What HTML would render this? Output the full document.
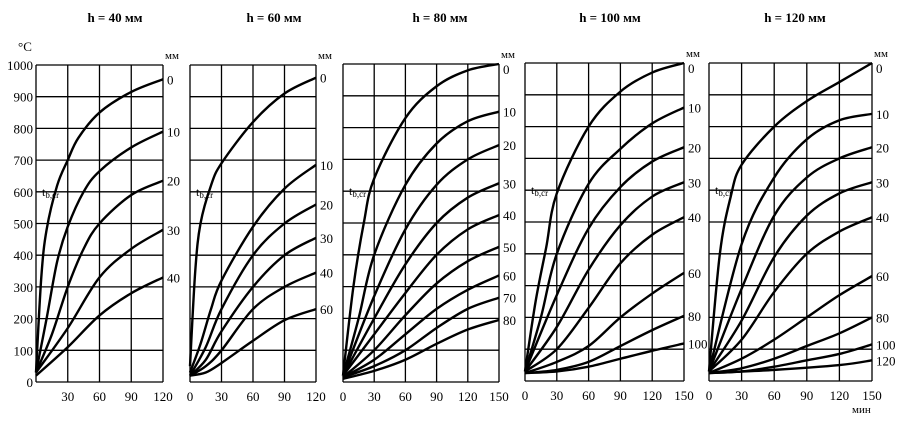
<!DOCTYPE html>
<html><head><meta charset="utf-8"><style>
html,body{margin:0;padding:0;background:#fff;}
svg{display:block;font-family:"Liberation Serif",serif;}
</style></head><body>
<svg id="s" width="907" height="427" xmlns="http://www.w3.org/2000/svg">
<text x="115" y="22" font-size="13" font-weight="bold" text-anchor="middle">h = 40 мм</text>
<text x="274" y="22" font-size="13" font-weight="bold" text-anchor="middle">h = 60 мм</text>
<text x="440" y="22" font-size="13" font-weight="bold" text-anchor="middle">h = 80 мм</text>
<text x="610" y="22" font-size="13" font-weight="bold" text-anchor="middle">h = 100 мм</text>
<text x="795" y="22" font-size="13" font-weight="bold" text-anchor="middle">h = 120 мм</text>
<text x="18" y="51" font-size="13">°C</text>
<text x="852" y="413" font-size="11">мин</text>
</svg>
<script>
var s=document.getElementById('s'),NS='http://www.w3.org/2000/svg';
function el(t,a,txt){var e=document.createElementNS(NS,t);for(var k in a)e.setAttribute(k,a[k]);if(txt!=null)e.textContent=txt;s.appendChild(e);return e;}
var P=[
{x0:36,x1:163,tmax:120,top:65,bot:382,ticks:[30,60,90,120],
 c:[["0",[[0,30],[5,330],[10,480],[20,620],[30,700],[40,770],[60,850],[90,915],[120,955]]],
    ["10",[[0,30],[10,200],[20,380],[30,490],[45,600],[60,665],[90,740],[120,790]]],
    ["20",[[0,30],[15,150],[30,300],[45,420],[60,500],[90,590],[120,635]]],
    ["30",[[0,30],[30,170],[60,330],[90,420],[120,480]]],
    ["40",[[0,20],[30,110],[60,210],[90,280],[120,330]]]]},
{x0:190,x1:316,tmax:120,top:65,bot:382,ticks:[0,30,60,90,120],
 c:[["0",[[0,50],[5,350],[10,500],[20,620],[30,690],[60,820],[90,910],[120,960]]],
    ["10",[[0,30],[10,120],[20,230],[30,320],[60,490],[90,610],[120,685]]],
    ["20",[[0,20],[15,110],[30,230],[60,400],[90,500],[120,560]]],
    ["30",[[0,20],[15,70],[30,160],[60,300],[90,400],[120,455]]],
    ["40",[[0,20],[15,50],[30,100],[60,230],[90,300],[120,345]]],
    ["60",[[0,20],[15,30],[30,60],[60,130],[90,195],[120,230]]]]},
{x0:343,x1:499,tmax:150,top:64,bot:382,ticks:[0,30,60,90,120,150],
 c:[["0",[[0,20],[10,300],[20,500],[30,640],[60,830],[90,930],[120,980],[150,1000]]],
    ["10",[[0,20],[15,200],[30,400],[60,620],[90,750],[120,820],[150,850]]],
    ["20",[[0,20],[30,270],[60,480],[90,620],[120,700],[150,745]]],
    ["30",[[0,20],[30,200],[60,370],[90,500],[120,580],[150,625]]],
    ["40",[[0,20],[30,150],[60,280],[90,400],[120,480],[150,525]]],
    ["50",[[0,15],[30,100],[60,210],[90,310],[120,380],[150,425]]],
    ["60",[[0,15],[30,70],[60,150],[90,230],[120,290],[150,335]]],
    ["70",[[0,15],[30,50],[60,100],[90,170],[120,230],[150,265]]],
    ["80",[[0,10],[30,35],[60,70],[90,120],[120,165],[150,195]]]]},
{x0:525,x1:684,tmax:150,top:63,bot:381,ticks:[0,30,60,90,120,150],
 c:[["0",[[0,30],[10,250],[20,420],[30,590],[60,800],[90,910],[120,970],[150,1000]]],
    ["10",[[0,30],[15,200],[30,400],[60,620],[90,730],[120,810],[150,860]]],
    ["20",[[0,30],[30,270],[60,480],[90,610],[120,690],[150,735]]],
    ["30",[[0,30],[30,170],[60,350],[90,490],[120,580],[150,625]]],
    ["40",[[0,30],[30,100],[60,230],[90,370],[120,460],[150,515]]],
    ["60",[[0,25],[30,60],[60,110],[90,200],[120,275],[150,340]]],
    ["80",[[0,25],[30,35],[60,60],[90,110],[120,160],[150,205]]],
    ["100",[[0,25],[30,30],[60,45],[90,70],[120,95],[150,118]]]]},
{x0:709,x1:872,tmax:150,top:63,bot:381,ticks:[0,30,60,90,120,150],
 c:[["0",[[0,30],[10,400],[20,580],[30,680],[60,800],[90,880],[120,940],[150,1000]]],
    ["10",[[0,30],[30,430],[60,640],[90,760],[120,820],[150,840]]],
    ["20",[[0,30],[30,290],[60,520],[90,640],[120,700],[150,735]]],
    ["30",[[0,30],[30,190],[60,390],[90,520],[120,590],[150,625]]],
    ["40",[[0,30],[30,130],[60,280],[90,400],[120,470],[150,515]]],
    ["60",[[0,25],[30,70],[60,130],[90,200],[120,270],[150,330]]],
    ["80",[[0,25],[30,40],[60,70],[90,110],[120,150],[150,200]]],
    ["100",[[0,25],[30,30],[60,45],[90,65],[120,85],[150,115]]],
    ["120",[[0,25],[60,35],[120,50],[150,65]]]]}
];
P.forEach(function(p,pi){
 var X=function(t){return p.x0+t*(p.x1-p.x0)/p.tmax},Y=function(T){return p.bot-T*(p.bot-p.top)/1000};
 for(var v=0;v<=1000;v+=100)el('line',{x1:p.x0,x2:p.x1,y1:Y(v),y2:Y(v),stroke:'#000','stroke-width':1.3});
 for(var t=0;t<=p.tmax;t+=30)el('line',{x1:X(t),x2:X(t),y1:p.top,y2:p.bot,stroke:'#000','stroke-width':1.3});
 p.ticks.forEach(function(t){el('text',{x:X(t),y:p.bot+19,'font-size':13,'text-anchor':'middle'},String(t));});
 el('text',{x:p.x1+2,y:p.top-6,'font-size':11},'мм');
 var tb=el('text',{x:p.x0+6,y:Y(600)+4,'font-size':12},'t');
 var sub=document.createElementNS(NS,'tspan');sub.setAttribute('font-size','9');sub.setAttribute('dy','2');sub.textContent='b,cr';tb.appendChild(sub);
 p.c.forEach(function(c){
  var pts=c[1].map(function(q){return[X(q[0]),Y(q[1])]});
  var d='M'+pts[0][0]+','+pts[0][1];
  for(var i=0;i<pts.length-1;i++){var p0=pts[i-1]||pts[i],p1=pts[i],p2=pts[i+1],p3=pts[i+2]||p2;
   d+=' C'+(p1[0]+(p2[0]-p0[0])/6)+','+(p1[1]+(p2[1]-p0[1])/6)+' '+(p2[0]-(p3[0]-p1[0])/6)+','+(p2[1]-(p3[1]-p1[1])/6)+' '+p2[0]+','+p2[1];}
  el('path',{d:d,fill:'none',stroke:'#000','stroke-width':2.4});
  var last=pts[pts.length-1];
  el('text',{x:p.x1+4,y:Math.max(last[1]+5,p.top+10),'font-size':13},c[0]);
 });
});
for(var v=0;v<=1000;v+=100)el('text',{x:33,y:382-v*0.317+5,'font-size':13,'text-anchor':'end'},String(v));
</script>
</body></html>
